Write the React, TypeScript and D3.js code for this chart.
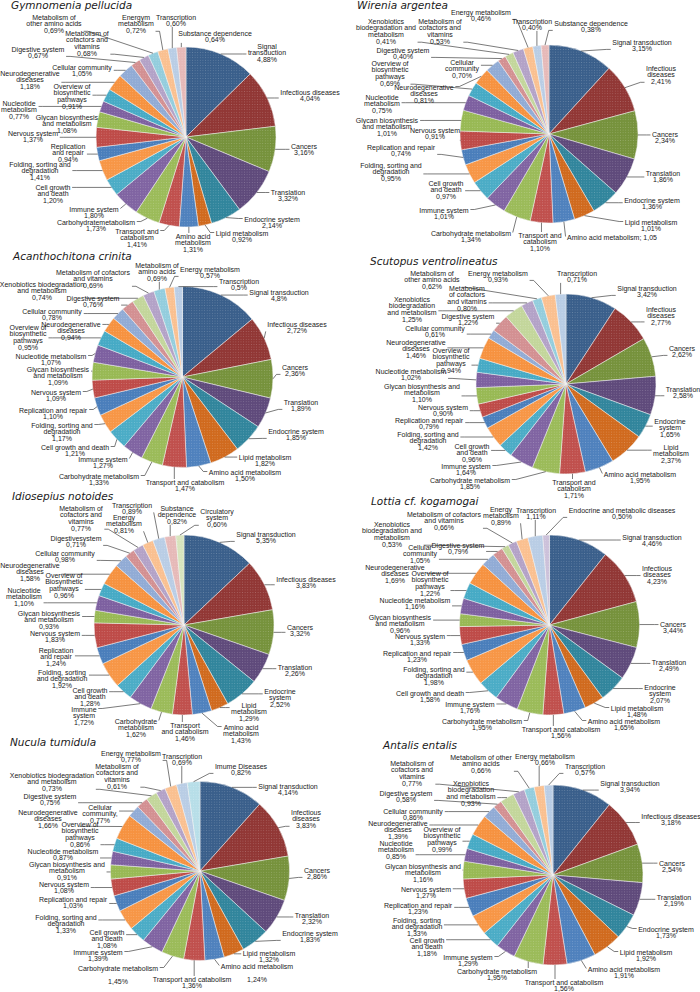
import React, { useEffect, useRef } from "react";
import * as d3 from "d3";

// ---------- colours by category ----------
const COLORS: Record<string, string> = {
  SIG: "#3A5F8B", INF: "#913735", CAN: "#76923C", TRL: "#5F4A7B", END: "#31859C", LIP: "#D06A1E",
  AMI: "#4F81BD", TRP: "#C0504D", CAR: "#9BBB59", IMM: "#8064A2", CEL: "#4BACC6", FOL: "#F79646",
  REP: "#4A7EBB", NER: "#BE4B48", GLY: "#98B954", NUC: "#7D60A0", OVE: "#46AAC5", NEU: "#F69240",
  COM: "#91ABD5", DIG: "#D39092", XEN: "#C3D69B", COF: "#B3A2C7", OAA: "#93CDDD", ENE: "#FAC090",
  TRS: "#B9CDE5", SUB: "#E6B9B8", CIR: "#D7E4BD", EMD: "#CCC1DA", IMD: "#B7DEE8",
};

const CORE = ["SIG", "INF", "CAN", "TRL", "END", "LIP", "AMI", "TRP", "CAR", "IMM", "CEL", "FOL", "REP", "NER", "GLY", "NUC", "OVE", "NEU"];

// ---------- Gymnomenia pellucida ----------
const gymnoCats = [...CORE, "COM", "DIG", "COF", "OAA", "ENE", "TRS", "SUB"];
const gymnoValues = [4.88, 4.04, 3.16, 3.32, 2.14, 0.92, 1.31, 1.41, 1.73, 1.80, 1.20, 1.41, 0.94, 1.37, 1.08, 0.77, 0.91, 1.18, 1.05, 0.67, 0.68, 0.69, 0.72, 0.60, 0.64];
const gymnoLabels = ["Signal|transduction|{v}", "Infectious diseases|{v}", "Cancers|{v}", "Translation|{v}", "Endocrine system|{v}", "Lipid metabolism|{v}", "Amino acid|metabolism|{v}", "Transport and|catabolism|{v}", "Carbohydratemetabolism|{v}", "Immune system|{v}", "Cell growth|and death|{v}", "Folding, sorting and|degradation|{v}", "Replication|and repair|{v}", "Nervous system|{v}", "Glycan biosynthesis|and metabolism|{v}", "Nucleotide|metabolism|{v}", "Overview of|biosynthetic|pathways|{v}", "Neurodegenerative|diseases|{v}", "Cellular community|{v}", "Digestive system|{v}", "Metabolism of|cofactors and|vitamins|{v}", "Metabolism of|other amino acids|{v}", "Energym|metabolism|{v}", "Transcription|{v}", "Substance dependence|{v}"];
const gymnoLabelXY = [[267, 46], [310, 92], [304, 146], [288, 192], [272, 219], [242, 233], [193, 236], [137, 231], [96, 222], [94, 209], [53, 187], [40, 164], [68, 146], [33, 133], [67, 117], [19, 103], [72, 86], [30, 73], [82, 67], [38, 49], [87, 33], [54, 17], [136, 17], [176, 17], [215, 33]];

// ---------- Wirenia argentea ----------
const wireniaCats = [...CORE, "COM", "DIG", "XEN", "COF", "ENE", "TRS", "SUB"];
const wireniaValues = [3.15, 2.41, 2.34, 1.86, 1.36, 1.01, 1.05, 1.10, 1.34, 1.01, 0.97, 0.95, 0.74, 0.91, 1.01, 0.75, 0.69, 0.81, 0.70, 0.40, 0.41, 0.53, 0.46, 0.40, 0.38];
const wireniaLabels = ["Signal transduction|{v}", "Infectious|diseases|{v}", "Cancers|{v}", "Translation|{v}", "Endocrine system|{v}", "Lipid metabolism|{v}", "Amino acid metabolism; {n}", "Transport and|catabolism|{v}", "Carbohydrate metabolism|{v}", "Immune system|{v}", "Cell growth|and death|{v}", "Folding, sorting and|degradation|{v}", "Replication and repair|{v}", "Nervous system|{v}", "Glycan biosynthesis|and metabolism|{v}", "Nucleotide|metabolism|{v}", "Overview of|biosynthetic|pathways|{v}", "Neurodegenerative|diseases|{v}", "Cellular|community|{v}", "Digestive system|{v}", "Xenobiotics|biodegradation and|metabolism|{v}", "Metabolism of|cofactors and|vitamins|{v}", "Energy metabolism|{v}", "Transcription|{v}", "Substance dependence|{v}"];
const wireniaLabelXY = [[642, 42], [661, 68], [665, 134], [663, 173], [652, 200], [651, 222], [612, 237], [540, 235], [471, 233], [444, 210], [446, 183], [391, 165], [401, 147], [435, 130], [387, 120], [382, 97], [390, 63], [424, 87], [462, 62], [403, 50], [386, 21], [440, 21], [481, 12], [532, 21], [591, 23]];

// ---------- Acanthochitona crinita ----------
const acanthoCats = [...CORE, "COM", "DIG", "XEN", "COF", "OAA", "ENE", "TRS"];
const acanthoValues = [4.8, 2.72, 2.36, 1.89, 1.85, 1.82, 1.50, 1.47, 1.33, 1.27, 1.21, 1.17, 1.10, 1.09, 1.09, 1.07, 0.95, 0.94, 0.78, 0.76, 0.74, 0.69, 0.69, 0.57, 0.5];
const acanthoLabels = ["Signal transduction|{v1}", "Infectious diseases|{v}", "Cancers|{v}", "Translation|{v}", "Endocrine system|{v}", "Lipid metabolism|{v}", "Amino acid metabolism|{v}", "Transport and catabolism|{v}", "Carbohydrate metabolism|{v}", "Immune system|{v}", "Cell growth and death|{v}", "Folding, sorting and|degradation|{v}", "Replication and repair|{v}", "Nervous system|{v}", "Glycan biosynthesis|and metabolism|{v}", "Nucleotide metabolism|{v}", "Overview of|biosynthetic|pathways|{v}", "Neurodegenerative|diseases|{v}", "Cellular community|{v}", "Digestive system|{v}", "Xenobiotics biodegradation|and metabolism|{v}", "Metabolism of cofactors|and vitamins|{v}", "Metabolism of|amino acids|{v}", "Energy metabolism|{v}", "Transcription|{v1}"];
const acanthoLabelXY = [[279, 292], [297, 324], [295, 367], [301, 402], [296, 431], [265, 457], [245, 472], [185, 482], [99, 476], [103, 459], [75, 447], [62, 425], [53, 410], [56, 392], [58, 369], [51, 356], [28, 327], [71, 324], [52, 311], [93, 298], [42, 284], [93, 272], [157, 265], [210, 269], [239, 281]];

// ---------- Scutopus ventrolineatus ----------
const scutoCats = [...CORE, "COM", "DIG", "XEN", "COF", "OAA", "ENE", "TRS"];
const scutoValues = [3.42, 2.77, 2.62, 2.58, 1.65, 2.37, 1.95, 1.71, 1.85, 1.64, 0.96, 1.42, 0.79, 0.90, 1.10, 1.02, 0.94, 1.46, 0.61, 1.22, 1.25, 0.80, 0.62, 0.93, 0.71];
const scutoLabels = ["Signal transduction|{v}", "Infectious|diseases|{v}", "Cancers|{v}", "Translation|{v}", "Endocrine|system|{v}", "Lipid|metabolism|{v}", "Amino acid metabolism|{v}", "Transport and|catabolism|{v}", "Carbohydrate metabolism|{v}", "Immune system|{v}", "Cell growth|and death|{v}", "Folding, sorting and|degradation|{v}", "Replication and repair|{v}", "Nervous system|{v}", "Glycan biosynthesis and|metabolism|{v}", "Nucleotide metabolism|{v}", "Overview of|biosynthetic|pathways|{v}", "Neurodegenerative|diseases|{v}", "Cellular community|{v}", "Digestive system|{v}", "Xenobiotics|biodegradation|and metabolism|{v}", "Metabolism|of cofactors|and vitamins|{v}", "Metabolism of|other amino acids|{v}", "Energy metabolism|{v}", "Transcription|{v}"];
const scutoLabelXY = [[647, 288], [661, 309], [682, 348], [683, 389], [670, 421], [671, 447], [640, 474], [574, 482], [470, 480], [466, 466], [472, 446], [428, 434], [429, 420], [443, 407], [422, 386], [411, 371], [451, 350], [416, 342], [435, 328], [468, 316], [412, 299], [467, 288], [432, 273], [498, 273], [577, 273]];

// ---------- Idiosepius notoides ----------
const idioCats = [...CORE, "COM", "DIG", "COF", "ENE", "TRS", "SUB", "CIR"];
const idioValues = [5.35, 3.83, 3.32, 2.26, 2.52, 1.29, 1.43, 1.46, 1.62, 1.72, 1.28, 1.92, 1.24, 1.83, 0.93, 1.10, 0.96, 1.58, 0.98, 0.71, 0.77, 0.81, 0.89, 0.82, 0.60];
const idioLabels = ["Signal transduction|{v}", "Infectious diseases|{v}", "Cancers|{v}", "Translation|{v}", "Endocrine|system|{v}", "Lipid|metabolism|{v}", "Amino acid|metabolism|{v}", "Transport|and catabolism|{v}", "Carbohydrate|metabolism|{v}", "Immune|system|{v}", "Cell growth|and death|{v}", "Folding, sorting|and degradation|{v}", "Replication|and repair|{v}", "Nervous system|{v}", "Glycan biosynthesis|and metabolism|{v}", "Nucleotide|metabolism|{v}", "Overview of|Biosynthetic|pathways|{v}", "Neurodegenerative|diseases|{v}", "Cellular community|{v}", "Digestivesystem|{v}", "Metabolism of|cofactors and|vitamins|{v}", "Energy|metabolism|{v}", "Transcription|{v}", "Substance|dependence|{v}", "Circulatory|system|{v}"];
const idioLabelXY = [[266, 534], [306, 579], [300, 627], [295, 667], [280, 691], [249, 705], [241, 727], [185, 725], [136, 721], [84, 709], [90, 690], [62, 672], [56, 650], [55, 633], [49, 613], [24, 590], [64, 575], [30, 565], [65, 553], [76, 538], [81, 508], [124, 517], [132, 505], [177, 508], [217, 511]];

// ---------- Lottia cf. kogamogai ----------
const lottiaCats = [...CORE, "COM", "DIG", "XEN", "COF", "ENE", "TRS", "EMD"];
const lottiaValues = [4.46, 4.23, 3.44, 2.49, 2.07, 1.48, 1.65, 1.56, 1.95, 1.76, 1.58, 1.98, 1.23, 1.33, 0.96, 1.16, 1.22, 1.69, 1.05, 0.79, 0.53, 0.66, 0.89, 1.11, 0.50];
const lottiaLabels = ["Signal transduction|{v}", "Infectious|diseases|{v}", "Cancers|{v}", "Translation|{v}", "Endocrine|system|{v}", "Lipid metabolism|{v}", "Amino acid metabolism|{v}", "Transport and catabolism|{v}", "Carbohydrate metabolism|{v}", "Immune system|{v}", "Cell growth and death|{v}", "Folding, sorting and|degradation|{v}", "Replication and repair|{v}", "Nervous system|{v}", "Glycan biosynthesis|and metabolism|{v}", "Nucleotide metabolism|{v}", "Overview of|biosynthetic|pathways|{v}", "Neurodegenerative|diseases|{v}", "Cellular|community|{v}", "Digestive system|{v}", "Xenobiotics|biodegradation and|metabolism|{v}", "Metabolism of cofactors|and vitamins|{v}", "Energy|metabolism|{v}", "Transcription|{v}", "Endocrine and metabolic diseases|{v}"];
const lottiaLabelXY = [[652, 537], [657, 568], [673, 624], [669, 662], [660, 687], [637, 708], [624, 721], [561, 729], [482, 721], [470, 704], [430, 693], [434, 669], [417, 653], [420, 636], [400, 617], [415, 600], [430, 573], [395, 567], [420, 547], [458, 545], [392, 524], [444, 514], [501, 509], [536, 510], [622, 510]];

// ---------- Nucula tumidula ----------
const nuculaCats = [...CORE, "COM", "DIG", "XEN", "COF", "ENE", "TRS", "IMD"];
const nuculaValues = [4.14, 3.83, 2.86, 2.32, 1.83, 1.32, 1.24, 1.36, 1.45, 1.39, 1.08, 1.33, 1.03, 1.08, 0.91, 0.87, 0.86, 1.66, 0.77, 0.75, 0.73, 0.61, 0.77, 0.69, 0.82];
const nuculaLabels = ["Signal transduction|{v}", "Infectious|diseases|{v}", "Cancers|{v}", "Translation|{v}", "Endocrine system|{v}", "Lipid metabolism|{v}", "Amino acid metabolism||{v}", "Transport and catabolism|{v}", "Carbohydrate metabolism||{v}", "Immune system|{v}", "Cell growth|and death|{v}", "Folding, sorting and|degradation|{v}", "Replication and repair|{v}", "Nervous system|{v}", "Glycan biosynthesis and|metabolism|{v}", "Nucleotide metabolism|{v}", "Overview of|biosynthetic|pathways|{v}", "Neurodegenerative|diseases|{v}", "Cellular|community,|{v}", "Digestive system|{v}", "Xenobiotics biodegradation|and metabolism|{v}", "Metabolism of|cofactors and|vitamins|{v}", "Energy metabolism|{v}", "Transcription|{v}", "Imume Diseases|{v}"];
const nuculaLabelXY = [[288, 786], [306, 812], [317, 870], [312, 915], [310, 933], [269, 953], [257, 966], [192, 979], [118, 968], [98, 952], [107, 932], [66, 917], [73, 899], [64, 884], [67, 864], [63, 851], [80, 824], [48, 812], [100, 807], [50, 796], [52, 775], [117, 766], [131, 753], [182, 756], [241, 766]];

// ---------- Antalis entalis ----------
const antalisCats = [...CORE, "COM", "DIG", "XEN", "COF", "OAA", "ENE", "TRS"];
const antalisValues = [3.94, 3.18, 2.54, 2.19, 1.73, 1.92, 1.91, 1.56, 1.95, 1.29, 1.18, 1.33, 1.23, 1.27, 1.16, 0.85, 0.99, 1.39, 0.86, 0.58, 0.93, 0.77, 0.66, 0.66, 0.57];
const antalisLabels = ["Signal transduction|{v}", "Infectious diseases|{v}", "Cancers|{v}", "Translation|{v}", "Endocrine system|{v}", "Lipid metabolism|{v}", "Amino acid metabolism|{v}", "Transport and catabolism|{v}", "Carbohydrate metabolism|{v}", "Immune system|{v}", "Cell growth|and death|{v}", "Folding, sorting|and degradation|{v}", "Replication and repair|{v}", "Nervous system|{v}", "Glycan biosynthesis and|metabolism|{v}", "Nucleotide|metabolism|{v}", "Overview of|biosynthetic|pathways|{v}", "Neurodegenerative|diseases|{v}", "Cellular community|{v}", "Digestive system|{v}", "Xenobiotics|biodegradation|and metabolism|{v}", "Metabolism of|cofactors and|vitamins|{v}", "Metabolism of other|amino acids|{v}", "Energy metabolism|{v}", "Transcription|{v}"];
const antalisLabelXY = [[630, 783], [671, 816], [672, 863], [674, 897], [666, 929], [646, 952], [624, 969], [564, 982], [497, 971], [468, 957], [427, 940], [417, 920], [418, 905], [426, 889], [423, 866], [396, 843], [442, 829], [398, 823], [413, 811], [406, 793], [471, 783], [412, 763], [481, 757], [545, 756], [585, 766]];

// ---------- panel layout ----------
const PANELS = [
  { title: "Gymnomenia pellucida", titleXY: [11, 9], pie: [186, 137, 90], cats: gymnoCats, values: gymnoValues, labels: gymnoLabels, xy: gymnoLabelXY },
  { title: "Wirenia argentea", titleXY: [357, 9], pie: [549, 134, 89], cats: wireniaCats, values: wireniaValues, labels: wireniaLabels, xy: wireniaLabelXY },
  { title: "Acanthochitona crinita", titleXY: [13, 260], pie: [182.5, 377, 90.5], cats: acanthoCats, values: acanthoValues, labels: acanthoLabels, xy: acanthoLabelXY },
  { title: "Scutopus ventrolineatus", titleXY: [370, 265], pie: [566, 384, 90], cats: scutoCats, values: scutoValues, labels: scutoLabels, xy: scutoLabelXY },
  { title: "Idiosepius notoides", titleXY: [12, 500], pie: [184, 625, 90], cats: idioCats, values: idioValues, labels: idioLabels, xy: idioLabelXY },
  { title: "Lottia cf. kogamogai", titleXY: [371, 505], pie: [549.5, 625, 90], cats: lottiaCats, values: lottiaValues, labels: lottiaLabels, xy: lottiaLabelXY },
  { title: "Nucula tumidula", titleXY: [10, 746], pie: [200, 871, 89.5], cats: nuculaCats, values: nuculaValues, labels: nuculaLabels, xy: nuculaLabelXY },
  { title: "Antalis entalis", titleXY: [383, 749], pie: [553, 875, 90], cats: antalisCats, values: antalisValues, labels: antalisLabels, xy: antalisLabelXY },
];

const LABEL_FONT = "'Liberation Sans', Arial, sans-serif";
const TITLE_FONT = "'DejaVu Sans', Verdana, sans-serif";
const LINE_H = 6.9;

const fmt = (v: number, d: number) => v.toFixed(d).replace(".", ",");
function labelLines(tpl: string, v: number): string[] {
  return tpl
    .replace("{v1}", fmt(v, 1) + "%")
    .replace("{v}", fmt(v, 2) + "%")
    .replace("{n}", fmt(v, 2))
    .split("|");
}

export default function App() {
  const ref = useRef<SVGSVGElement | null>(null);

  useEffect(() => {
    const svg = d3.select(ref.current);
    svg.selectAll("*").remove();
    const defs = svg.append("defs");
    const pat = defs
      .append("pattern")
      .attr("id", "stip")
      .attr("width", 2.6)
      .attr("height", 2.6)
      .attr("patternUnits", "userSpaceOnUse");
    pat.append("circle").attr("cx", 1.3).attr("cy", 1.3).attr("r", 0.5).attr("fill", "#ffffff").attr("fill-opacity", 0.25);

    PANELS.forEach((p) => {
      const [cx, cy, r] = p.pie;
      const g = svg.append("g");
      g.append("text")
        .attr("x", p.titleXY[0])
        .attr("y", p.titleXY[1])
        .attr("font-family", TITLE_FONT)
        .attr("font-style", "italic")
        .attr("font-size", 10.5)
        .attr("fill", "#1a1a1a")
        .text(p.title);

      const arcs = d3.pie<number>().sort(null).value((d) => d)(p.values);
      const arc = d3.arc<d3.PieArcDatum<number>>().innerRadius(0).outerRadius(r);
      const pg = g.append("g").attr("transform", `translate(${cx},${cy})`);
      pg.selectAll("path.slice")
        .data(arcs)
        .join("path")
        .attr("class", "slice")
        .attr("d", arc)
        .attr("fill", (_d, i) => COLORS[p.cats[i]])
        .attr("stroke", "#f2f2f2")
        .attr("stroke-width", 0.5);
      pg.append("circle").attr("r", r).attr("fill", "url(#stip)");

      const lg = g.append("g");
      arcs.forEach((d, i) => {
        const lines = labelLines(p.labels[i], p.values[i]);
        const [lx, ly] = p.xy[i];
        const t = lg
          .append("text")
          .attr("font-family", LABEL_FONT)
          .attr("font-size", 7)
          .attr("text-anchor", "middle")
          .attr("fill", "#1a1a1a");
        lines.forEach((ln, k) => {
          t.append("tspan").attr("x", lx).attr("y", ly + 2.5 + k * LINE_H).text(ln);
        });
        const bb = (t.node() as SVGTextElement).getBBox();
        const mid = (d.startAngle + d.endAngle) / 2;
        const px = cx + Math.sin(mid) * r;
        const py = cy - Math.cos(mid) * r;
        const x0 = bb.x - 1.5, x1 = bb.x + bb.width + 1.5;
        const y0 = bb.y + 0.5, y1 = bb.y + bb.height - 0.5;
        if (px >= x0 && px <= x1 && py >= y0 && py <= y1) return;
        let pts: [number, number][];
        if (px < x0 || px > x1) {
          const qx = px < x0 ? x0 : x1;
          const qy = Math.max(y0 + 2.5, Math.min(y1 - 2.5, py));
          const ex = qx + (px < x0 ? -4 : 4);
          pts = Math.abs(px - qx) > 6 ? [[qx, qy], [ex, qy], [px, py]] : [[qx, qy], [px, py]];
        } else {
          const qy = py < y0 ? y0 : y1;
          const qx = Math.max(x0, Math.min(x1, px));
          pts = [[qx, qy], [px, py]];
        }
        lg.append("path")
          .attr("d", d3.line()(pts) as string)
          .attr("fill", "none")
          .attr("stroke", "#222")
          .attr("stroke-width", 0.6);
      });
    });
  }, []);

  return (
    <svg
      ref={ref}
      width={700}
      height={992}
      style={{ position: "absolute", left: 0, top: 0, background: "#ffffff", display: "block" }}
    />
  );
}
